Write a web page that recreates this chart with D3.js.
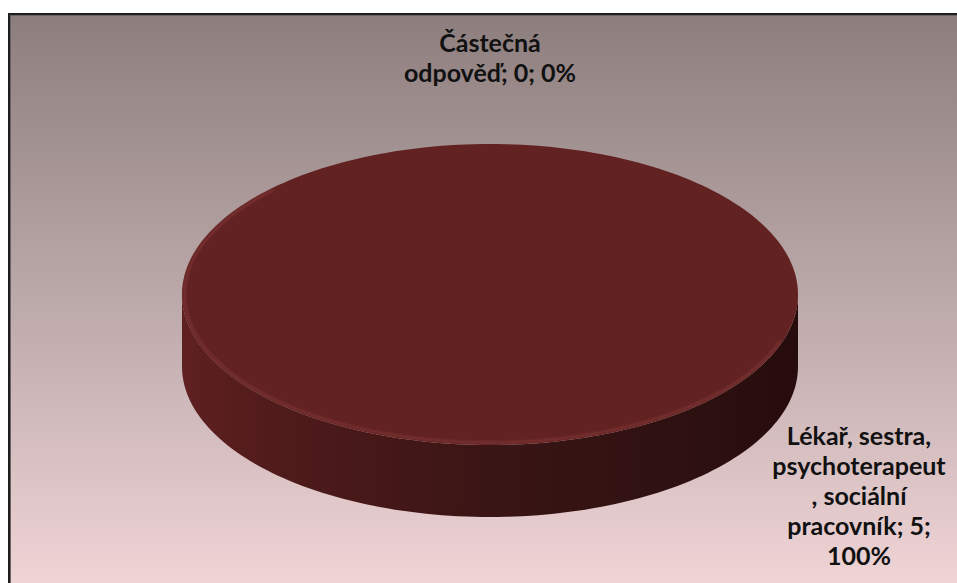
<!DOCTYPE html>
<html>
<head>
<meta charset="utf-8">
<script src="https://cdn.jsdelivr.net/npm/d3@7"></script>
<style>
  html, body { margin: 0; padding: 0; background: #ffffff; }
  svg { display: block; }
</style>
</head>
<body>
<svg id="chart" width="957" height="583"></svg>
<script>
// Pie data: one answer group takes the whole sample
const categories = ["Lékař, sestra, psychoterapeut, sociální pracovník", "Částečná odpověď"];
const values = [5, 0];
const labelLines = [
  ["Lékař, sestra,", "psychoterapeut", ", sociální", "pracovník; 5;", "100%"],
  ["Částečná", "odpověď; 0; 0%"]
];

const W = 957, H = 583;
const svg = d3.select("#chart");
const defs = svg.append("defs");

// Chart area background
const bg = defs.append("linearGradient").attr("id", "bg").attr("x1", 0).attr("y1", 0).attr("x2", 0).attr("y2", 1);
bg.append("stop").attr("offset", "0%").attr("stop-color", "#8d7e7e");
bg.append("stop").attr("offset", "55%").attr("stop-color", "#c2aeaf");
bg.append("stop").attr("offset", "100%").attr("stop-color", "#f2d6d8");

svg.append("rect").attr("x", 9).attr("y", 14).attr("width", W).attr("height", H)
  .attr("fill", "url(#bg)").attr("stroke", "#1e1e1e").attr("stroke-width", 2);
svg.append("rect").attr("x", 10.5).attr("y", 15.5).attr("width", W).attr("height", H)
  .attr("fill", "none").attr("stroke", "#6d6363").attr("stroke-width", 1);

// 3D pie geometry
const cx = 490, cy = 294.5, rx = 308, ry = 150.5, depth = 72;

const pie = d3.pie().sort(null).value(d => d);
const arcs = pie(values);

// angle -> point on the top ellipse
const ex = a => cx + rx * Math.sin(a);
const ey = a => cy - ry * Math.cos(a);

// Side wall gradient (lit from the left)
const sideGrad = defs.append("linearGradient").attr("id", "side").attr("gradientUnits", "userSpaceOnUse")
  .attr("x1", cx - rx).attr("x2", cx + rx).attr("y1", 0).attr("y2", 0);
sideGrad.append("stop").attr("offset", "0%").attr("stop-color", "#5f2020");
sideGrad.append("stop").attr("offset", "18%").attr("stop-color", "#4e1a1a");
sideGrad.append("stop").attr("offset", "50%").attr("stop-color", "#3a1515");
sideGrad.append("stop").attr("offset", "85%").attr("stop-color", "#2d1010");
sideGrad.append("stop").attr("offset", "100%").attr("stop-color", "#260c0c");

const blur = defs.append("filter").attr("id", "soft").attr("x", "-10%").attr("y", "-10%").attr("width", "120%").attr("height", "120%");
blur.append("feGaussianBlur").attr("stdDeviation", 1.3);

const N = 240;
function sample(a0, a1) {
  const n = Math.max(2, Math.ceil(N * (a1 - a0) / (2 * Math.PI)));
  return d3.range(n + 1).map(i => a0 + (a1 - a0) * i / n);
}

const g = svg.append("g");
const lineGen = d3.line();

// side walls (front half only: angles between PI/2 and 3PI/2)
arcs.forEach((d, i) => {
  if (d.endAngle - d.startAngle <= 0) return;
  const s = Math.max(d.startAngle, Math.PI / 2), e = Math.min(d.endAngle, 3 * Math.PI / 2);
  if (e <= s) return;
  const angs = sample(s, e);
  const pts = angs.map(a => [ex(a), ey(a)]).concat(angs.slice().reverse().map(a => [ex(a), ey(a) + depth]));
  g.append("path").attr("d", lineGen(pts) + "Z").attr("fill", "url(#side)");
});

// top faces
arcs.forEach((d, i) => {
  if (d.endAngle - d.startAngle <= 0) return;
  const angs = sample(d.startAngle, d.endAngle);
  let pts = angs.map(a => [ex(a), ey(a)]);
  if (d.endAngle - d.startAngle < 2 * Math.PI - 1e-6) pts = [[cx, cy]].concat(pts);
  g.append("path").attr("d", lineGen(pts) + "Z").attr("fill", "#622222");

  // soft bevel highlight along the front-left rim
  const s = Math.max(d.startAngle, Math.PI * 0.6), e = Math.min(d.endAngle, Math.PI * 1.75);
  if (e > s) {
    const rim = sample(s, e).map(a => [cx + (rx - 2.5) * Math.sin(a), cy - (ry - 2.5) * Math.cos(a)]);
    g.append("path").attr("d", lineGen(rim)).attr("fill", "none")
      .attr("stroke", "#843a3a").attr("stroke-width", 2).attr("stroke-opacity", 0.8)
      .attr("filter", "url(#soft)");
  }
});

// data labels
const fontFamily = "Lato, 'Open Sans', 'DejaVu Sans', sans-serif";
const labelPos = [
  { x: 859, y: 445 },   // large slice: bottom right, outside the cylinder
  { x: ex(arcs[1].startAngle), y: ey(arcs[1].startAngle) - 92 } // empty slice: above the top point
];
arcs.forEach((d, i) => {
  const t = svg.append("text")
    .attr("x", labelPos[i].x).attr("y", labelPos[i].y)
    .attr("text-anchor", "middle")
    .attr("font-family", fontFamily).attr("font-weight", "bold").attr("font-size", 25)
    .attr("fill", "#111111");
  labelLines[i].forEach((line, j) => {
    t.append("tspan").attr("x", labelPos[i].x).attr("dy", j === 0 ? 0 : 30).text(line);
  });
});
</script>
</body>
</html>
